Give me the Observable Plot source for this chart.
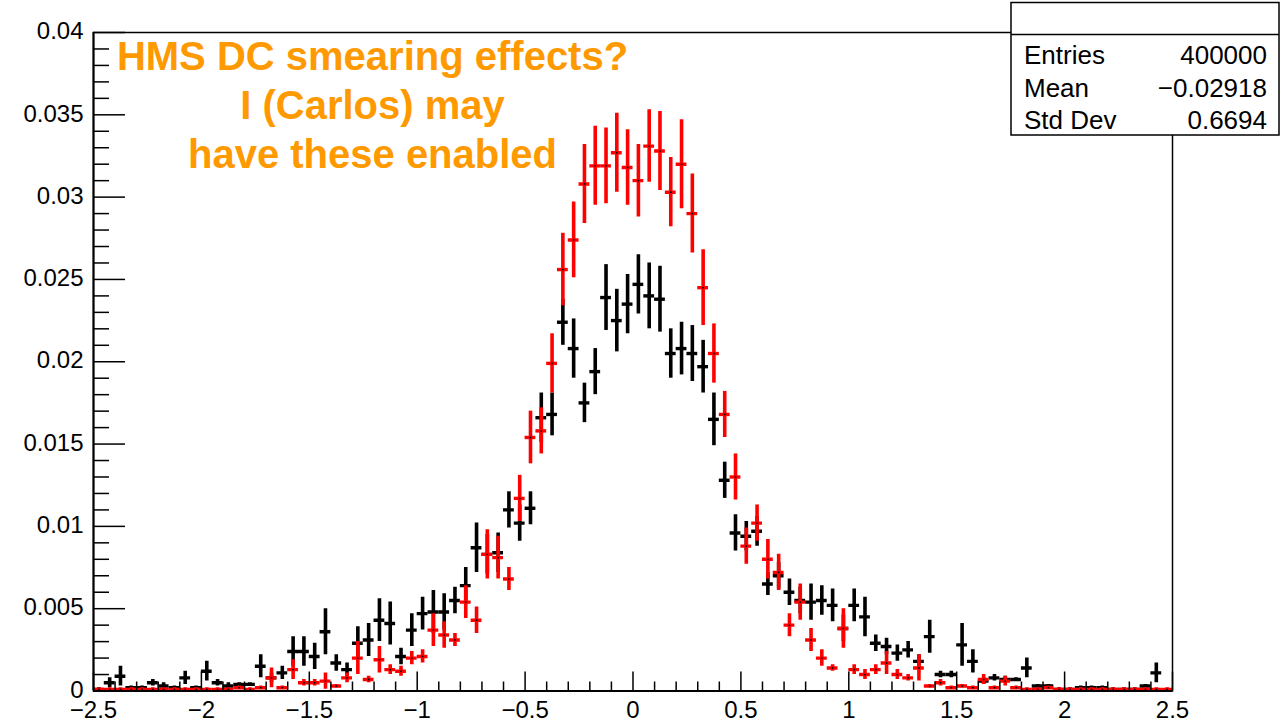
<!DOCTYPE html>
<html>
<head>
<meta charset="utf-8">
<script src="https://cdn.jsdelivr.net/npm/d3@7"></script>
<script src="https://cdn.jsdelivr.net/npm/@observablehq/plot@0.6"></script>
<style>
  body { margin: 0; background: #fff; }
  #wrap { position: relative; width: 1281px; height: 724px; overflow: hidden; }
</style>
</head>
<body>
<div id="wrap"></div>
<script>
// ---- Histogram binning ----
const xMin = -2.5, xMax = 2.5, binWidth = 0.05;

// ---- Series: black histogram (values and errors) ----
const blackValues = [
  0.0001,0.0005,0.0009,0.0002,0.0002,0.0005,0.0003,0.0002,0.0008,0.0002,
  0.0012,0.0005,0.0003,0.0004,0.0004,0.0015,0.0008,0.0011,0.0024,0.0024,
  0.0021,0.0036,0.0017,0.0013,0.0029,0.0031,0.0043,0.0041,0.0021,0.0037,
  0.0047,0.0048,0.0048,0.0055,0.0064,0.0087,0.0083,0.0084,0.0110,0.0102,
  0.0111,0.0166,0.0168,0.0224,0.0208,0.0175,0.0194,0.0239,0.0225,0.0235,
  0.0247,0.0240,0.0238,0.0205,0.0208,0.0205,0.0197,0.0165,0.0128,0.0096,
  0.0094,0.0097,0.0065,0.0070,0.0060,0.0055,0.0054,0.0055,0.0052,0.0038,
  0.0052,0.0045,0.0029,0.0027,0.0023,0.0025,0.0018,0.0033,0.0010,0.0010,
  0.0028,0.0018,0.0006,0.0008,0.0007,0.0007,0.0014,0.0003,0.0003,0.0001,
  0.0001,0.0002,0.0002,0.0002,0.0001,0.0001,0.0001,0.0003,0.0011,0.0000
];
const blackErrors = [
  0.0001,0.0003,0.0006,0.0001,0.0001,0.0002,0.0002,0.0001,0.0004,0.0001,
  0.0006,0.0002,0.0002,0.0001,0.0001,0.0007,0.0003,0.0004,0.0009,0.0009,
  0.0008,0.0014,0.0005,0.0004,0.0010,0.0010,0.0013,0.0013,0.0005,0.0010,
  0.0010,0.0013,0.0011,0.0008,0.0011,0.0015,0.0012,0.0012,0.0011,0.0011,
  0.0010,0.0015,0.0013,0.0014,0.0018,0.0012,0.0014,0.0020,0.0019,0.0018,
  0.0018,0.0020,0.0020,0.0015,0.0016,0.0017,0.0016,0.0016,0.0011,0.0011,
  0.0009,0.0009,0.0007,0.0008,0.0008,0.0008,0.0011,0.0009,0.0010,0.0008,
  0.0010,0.0012,0.0005,0.0005,0.0005,0.0005,0.0004,0.0010,0.0002,0.0002,
  0.0013,0.0007,0.0002,0.0002,0.0002,0.0001,0.0006,0.0001,0.0001,0.0001,
  0.0001,0.0001,0.0001,0.0001,0.0001,0.0001,0.0001,0.0001,0.0006,0.0000
];

// ---- Series: red histogram (values and errors) ----
const redValues = [
  0.0001,0.0001,0.0001,0.0001,0.0001,0.0001,0.0001,0.0001,0.0001,0.0001,
  0.0001,0.0001,0.0001,0.0002,0.0001,0.0002,0.0008,0.0002,0.0013,0.0005,
  0.0005,0.0006,0.0003,0.0008,0.0020,0.0007,0.0019,0.0013,0.0012,0.0020,
  0.0021,0.0037,0.0034,0.0031,0.0054,0.0043,0.0083,0.0081,0.0068,0.0117,
  0.0154,0.0158,0.0199,0.0256,0.0274,0.0308,0.0319,0.0319,0.0327,0.0318,
  0.0310,0.0331,0.0328,0.0303,0.0320,0.0290,0.0245,0.0205,0.0168,0.0130,
  0.0088,0.0102,0.0080,0.0072,0.0040,0.0054,0.0031,0.0020,0.0014,0.0038,
  0.0013,0.0010,0.0013,0.0017,0.0010,0.0008,0.0014,0.0003,0.0005,0.0002,
  0.0003,0.0002,0.0007,0.0002,0.0006,0.0002,0.0001,0.0001,0.0002,0.0001,
  0.0001,0.0001,0.0001,0.0001,0.0001,0.0001,0.0001,0.0001,0.0001,0.0001
];
const redErrors = [
  0.0001,0.0001,0.0001,0.0001,0.0001,0.0001,0.0001,0.0001,0.0001,0.0001,
  0.0001,0.0001,0.0001,0.0001,0.0001,0.0001,0.0006,0.0001,0.0006,0.0002,
  0.0002,0.0005,0.0001,0.0003,0.0010,0.0002,0.0008,0.0003,0.0003,0.0004,
  0.0004,0.0010,0.0008,0.0004,0.0010,0.0008,0.0015,0.0013,0.0007,0.0014,
  0.0016,0.0014,0.0018,0.0022,0.0023,0.0024,0.0024,0.0023,0.0024,0.0023,
  0.0022,0.0022,0.0024,0.0021,0.0027,0.0024,0.0023,0.0018,0.0014,0.0014,
  0.0011,0.0011,0.0012,0.0011,0.0007,0.0011,0.0007,0.0005,0.0002,0.0012,
  0.0003,0.0003,0.0003,0.0007,0.0003,0.0002,0.0008,0.0001,0.0002,0.0001,
  0.0001,0.0001,0.0003,0.0001,0.0003,0.0001,0.0001,0.0001,0.0001,0.0001,
  0.0001,0.0001,0.0001,0.0001,0.0001,0.0001,0.0001,0.0001,0.0001,0.0001
];

// ---- Axis ticks ----
const xTickValues = [-2.5, -2, -1.5, -1, -0.5, 0, 0.5, 1, 1.5, 2, 2.5];
const yTickValues = [0, 0.005, 0.01, 0.015, 0.02, 0.025, 0.03, 0.035, 0.04];

// ---- Texts ----
const annotationLines = ["HMS DC smearing effects?", "I (Carlos) may", "have these enabled"];
const statsLabels = ["Entries", "Mean", "Std Dev"];
const statsValues = ["400000", "\u22120.02918", "0.6694"];

// ---- Build table ----
function toRows(vals, errs, series) {
  return vals.map((v, i) => {
    const lo = xMin + i * binWidth;
    return { series, lo, hi: lo + binWidth, x: lo + binWidth / 2, v, e: errs[i] };
  });
}
const black = toRows(blackValues, blackErrors, "black");
const red = toRows(redValues, redErrors, "red");

const W = 1281, H = 724;
const mL = 93, mR = 109, mT = 32, mB = 33.5;
const frameW = W - mL - mR, frameH = H - mT - mB;

const xMinor = d3.range(-25, 26).map(k => k / 10).filter(v => !xTickValues.some(t => Math.abs(t - v) < 1e-9));
const yMinor = d3.range(0, 41).map(k => k / 1000).filter(v => !yTickValues.some(t => Math.abs(t - v) < 1e-9));

const fmtX = d => (d < 0 ? "\u2212" : "") + String(Math.abs(d));
const fmtY = d => String(+d.toFixed(3));

function histMarks(rows, color) {
  return [
    Plot.ruleX(rows, { x: "x", y1: d => d.v - d.e, y2: d => d.v + d.e, stroke: color, strokeWidth: 3.6, clip: true }),
    Plot.ruleY(rows, { y: "v", x1: "lo", x2: "hi", stroke: color, strokeWidth: 3.4, clip: true })
  ];
}

const chart = Plot.plot({
  width: W,
  height: H,
  marginLeft: mL,
  marginRight: mR,
  marginTop: mT,
  marginBottom: mB,
  x: { domain: [xMin, xMax] },
  y: { domain: [0, 0.04] },
  style: { fontFamily: "'Liberation Sans', Arial, Helvetica, sans-serif", fontSize: "24px", color: "#000", background: "#fff", overflow: "visible" },
  marks: [
    // data
    ...histMarks(black, "#000000"),
    ...histMarks(red, "#ff0000"),
    Plot.dot(red, { x: "x", y: "v", r: 0.9, fill: "#000", clip: true }),
    // ticks (inside the frame, ROOT style)
    Plot.ruleY(yTickValues, { stroke: "#000", strokeWidth: 1.5, insetRight: frameW - 32 }),
    Plot.ruleY(yMinor, { stroke: "#000", strokeWidth: 1.5, insetRight: frameW - 16 }),
    Plot.ruleX(xTickValues, { stroke: "#000", strokeWidth: 1.5, insetTop: frameH - 19 }),
    Plot.ruleX(xMinor, { stroke: "#000", strokeWidth: 1.5, insetTop: frameH - 9 }),
    Plot.axisY({ ticks: yTickValues, tickSize: 0, tickPadding: 10, tickFormat: fmtY, label: null, dy: -1 }),
    Plot.axisX({ ticks: xTickValues, tickSize: 0, tickPadding: 10, tickFormat: fmtX, label: null }),
    Plot.frame({ stroke: "#000", strokeWidth: 1.5 }),
    // axis lines drawn over the frame (ROOT draws them slightly heavier)
    Plot.ruleX([xMin], { stroke: "#000", strokeWidth: 2 }),
    Plot.ruleY([0], { stroke: "#000", strokeWidth: 2 }),
    // annotation
    Plot.text([annotationLines.join("\n")], {
      text: d => d,
      frameAnchor: "top-left",
      dx: 279,
      dy: 3,
      textAnchor: "middle",
      lineAnchor: "top",
      lineHeight: 1.22,
      fontSize: 40,
      fontWeight: "bold",
      fill: "#ff9900"
    })
  ]
});

document.getElementById("wrap").appendChild(chart);

// ---- Stats box (ROOT TPaveStats) ----
const svg = d3.select(chart);
const g = svg.append("g")
  .attr("font-family", "'Liberation Sans', Arial, Helvetica, sans-serif")
  .attr("text-anchor", "start");
const bx = 1011, by = 2.5, bw = 268, bh = 132.5, hdr = 32;
g.append("rect").attr("x", bx).attr("y", by).attr("width", bw).attr("height", bh)
  .attr("fill", "#fff").attr("stroke", "#000").attr("stroke-width", 1.5);
g.append("line").attr("x1", bx).attr("x2", bx + bw).attr("y1", by + hdr).attr("y2", by + hdr)
  .attr("stroke", "#000").attr("stroke-width", 1.5);
const baselines = [64, 96.5, 129];
statsLabels.forEach((lab, i) => {
  g.append("text").attr("x", bx + 13).attr("y", baselines[i]).attr("font-size", 26)
    .attr("text-anchor", "start").text(lab);
  g.append("text").attr("x", bx + bw - 12).attr("y", baselines[i]).attr("font-size", 26)
    .attr("text-anchor", "end").text(statsValues[i]);
});
</script>
</body>
</html>
